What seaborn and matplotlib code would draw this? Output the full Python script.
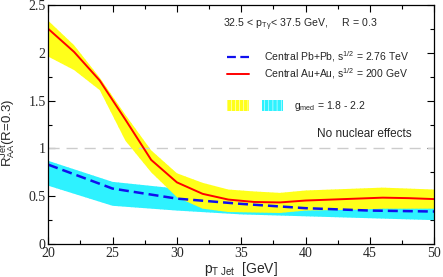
import numpy as np
import pandas as pd
import matplotlib
matplotlib.use("Agg")
import matplotlib.pyplot as plt
import seaborn as sns
from matplotlib.patches import Patch
from matplotlib.lines import Line2D
from matplotlib.legend_handler import HandlerTuple
from matplotlib.ticker import MultipleLocator

# Au+Au, sqrt(s)=200 GeV (red line + yellow band)
pt_au = [20, 22, 24, 26, 28, 30, 32, 34, 36, 38, 40, 42, 44, 46, 48, 50]
raa_au = [2.25, 2.01, 1.71, 1.30, 0.88, 0.645, 0.525, 0.465, 0.44, 0.435,
          0.455, 0.465, 0.475, 0.485, 0.48, 0.47]
au_hi = [2.335, 2.08, 1.74, 1.35, 0.98, 0.74, 0.64, 0.57, 0.55, 0.535,
         0.56, 0.57, 0.58, 0.59, 0.58, 0.57]
au_lo = [1.96, 1.82, 1.61, 1.08, 0.75, 0.49, 0.37, 0.335, 0.33, 0.325,
         0.35, 0.355, 0.36, 0.37, 0.37, 0.37]

# Pb+Pb, sqrt(s)=2.76 TeV (blue dashed + cyan band)
pt_pb = [20, 25, 30, 35, 40, 45, 50]
raa_pb = [0.83, 0.58, 0.475, 0.42, 0.375, 0.35, 0.34]
pb_hi = [0.87, 0.65, 0.58, 0.50, 0.46, 0.43, 0.42]
pb_lo = [0.61, 0.40, 0.35, 0.31, 0.29, 0.27, 0.25]

YELLOW = "#ffff1a"
CYAN = "#2ef2ff"
RED = "#ff0000"
BLUE = "#1010ee"
DASH = (0, (4, 2))

sns.set_theme(style="ticks")
plt.rcParams["font.family"] = ["Liberation Sans", "DejaVu Sans"]
plt.rcParams["mathtext.fontset"] = "custom"
plt.rcParams["mathtext.rm"] = "Liberation Sans"
plt.rcParams["mathtext.it"] = "Liberation Sans"
plt.rcParams["hatch.color"] = "white"
plt.rcParams["hatch.linewidth"] = 0.4

df_au = pd.DataFrame({"pt": pt_au, "raa": raa_au})
df_pb = pd.DataFrame({"pt": pt_pb, "raa": raa_pb})

fig = plt.figure(figsize=(4.43, 2.77), dpi=100)
ax = fig.add_axes([0.109, 0.119, 0.871, 0.863])

ax.fill_between(pt_pb, pb_lo, pb_hi, color=CYAN, lw=0, hatch="||||")
ax.fill_between(pt_au, au_lo, au_hi, color=YELLOW, lw=0, hatch="||||")
ax.axhline(1.0, color="#cccccc", lw=1.0, dashes=(8, 5), zorder=1)

sns.lineplot(data=df_pb, x="pt", y="raa", ax=ax, color=BLUE, lw=1.8,
             linestyle=DASH)
sns.lineplot(data=df_au, x="pt", y="raa", ax=ax, color=RED, lw=1.4)

ax.set_xlim(20, 50)
ax.set_ylim(0, 2.5)
ax.xaxis.set_major_locator(MultipleLocator(5))
ax.xaxis.set_minor_locator(MultipleLocator(2.5))
ax.yaxis.set_major_locator(MultipleLocator(0.5))
ax.yaxis.set_minor_locator(MultipleLocator(0.25))
ax.yaxis.set_major_formatter(matplotlib.ticker.FuncFormatter(
    lambda v, p: f"{v:g}"))
ax.tick_params(which="both", direction="in", top=True, right=True,
               color="black", width=0.8)
ax.tick_params(which="major", length=5, labelsize=10, pad=2)
ax.tick_params(which="minor", length=3)
for lab in ax.get_xticklabels() + ax.get_yticklabels():
    lab.set_fontfamily("Liberation Serif")
for s in ax.spines.values():
    s.set_color("black")
    s.set_linewidth(0.9)

ax.set_xlabel(r"$\mathrm{p_{T\ Jet}}$  [GeV]", fontsize=10, labelpad=0)
ax.set_ylabel(r"$\mathrm{R_{AA}^{Jet}}$(R=0.3)", fontsize=9.5)
ax.yaxis.set_label_coords(-0.08, 0.465)

ax.text(33.6, 2.29, r"32.5 < $\mathrm{p_{T\,\gamma}}$< 37.5 GeV,     R = 0.3",
        fontsize=7.6, va="center", ha="left")
ax.text(40.9, 1.15, "No nuclear effects", fontsize=8.5, va="center", ha="left")

line_handles = [Line2D([], [], color=BLUE, lw=1.6, linestyle=DASH),
                Line2D([], [], color=RED, lw=1.4)]
line_labels = [r"Central Pb+Pb, s$^{1/2}$ = 2.76 TeV",
               r"Central Au+Au, s$^{1/2}$ = 200 GeV"]
leg1 = ax.legend(line_handles, line_labels, loc="upper left",
                 bbox_to_anchor=(0.463, 0.815), frameon=False, fontsize=7.5,
                 handlelength=2.1, handletextpad=1.45, labelspacing=0.2,
                 borderaxespad=0, borderpad=0)
ax.add_artist(leg1)

band_handle = (Patch(facecolor=YELLOW, hatch="||||", lw=0),
               Patch(facecolor=CYAN, hatch="||||", lw=0))
ax.legend([band_handle], [r"g$_{\mathrm{med}}$ = 1.8 - 2.2"], loc="upper left",
          bbox_to_anchor=(0.463, 0.605), frameon=False, fontsize=7.5,
          handler_map={tuple: HandlerTuple(ndivide=None, pad=1.25)},
          handlelength=5.4, handleheight=1.25, handletextpad=1.05,
          borderaxespad=0, borderpad=0)

fig.savefig("out.png", dpi=100)
